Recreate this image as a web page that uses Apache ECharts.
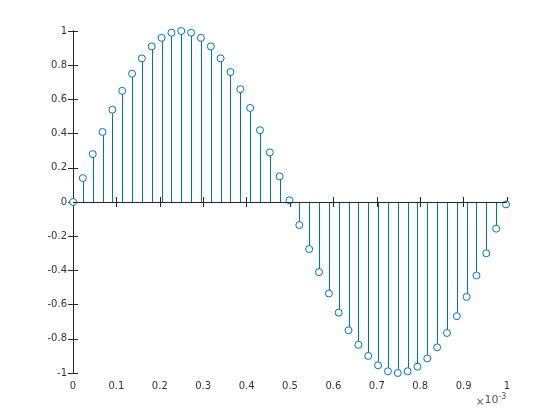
<!DOCTYPE html>
<html><head><meta charset="utf-8">
<script src="https://cdn.jsdelivr.net/npm/echarts@6/dist/echarts.min.js"></script>
<style>html,body{margin:0;padding:0;background:#fff}#c{width:560px;height:420px}</style>
</head><body><div id="c"></div>
<script>
// time in units of 1e-3 s
const times = [0, 0.0227, 0.0454, 0.068, 0.0907, 0.1134, 0.1361, 0.1587, 0.1814, 0.2041, 0.2268, 0.2494, 0.2721, 0.2948, 0.3175, 0.3401, 0.3628, 0.3855, 0.4082, 0.4308, 0.4535, 0.4762, 0.4989, 0.5215, 0.5442, 0.5669, 0.5896, 0.6122, 0.6349, 0.6576, 0.6803, 0.7029, 0.7256, 0.7483, 0.771, 0.7937, 0.8163, 0.839, 0.8617, 0.8844, 0.907, 0.9297, 0.9524, 0.9751, 0.9977];
const values = [0, 0.14, 0.28, 0.41, 0.54, 0.65, 0.75, 0.84, 0.91, 0.96, 0.99, 1.0, 0.99, 0.96, 0.91, 0.84, 0.76, 0.66, 0.55, 0.42, 0.29, 0.15, 0.01, -0.135, -0.275, -0.41, -0.535, -0.647, -0.75, -0.835, -0.90, -0.955, -0.99, -1.0, -0.99, -0.963, -0.915, -0.85, -0.766, -0.668, -0.555, -0.43, -0.30, -0.156, -0.014];
const xTicks = [0, 0.1, 0.2, 0.3, 0.4, 0.5, 0.6, 0.7, 0.8, 0.9, 1];
const yTicks = [-1, -0.8, -0.6, -0.4, -0.2, 0, 0.2, 0.4, 0.6, 0.8, 1];
const exponentLabel = '-3';

const pts = times.map((t, i) => [t, values[i]]);
const axisColor = '#262626';
const font = 'DejaVu Sans';
const chart = echarts.init(document.getElementById('c'));
const fmt = v => String(Math.round(v * 10) / 10);
const baseAxis = {
  type: 'value', min: 0, max: 1, interval: 0.1,
  axisLine: { show: true, lineStyle: { color: axisColor, width: 1 } },
  axisTick: { show: true, inside: true, length: 5, lineStyle: { color: axisColor } },
  splitLine: { show: false }
};
chart.setOption({
  animation: false,
  grid: { left: 73, right: 53, top: 31, bottom: 47 },
  xAxis: [
    Object.assign({}, baseAxis, { position: 'bottom',
      axisLabel: { color: '#333', fontFamily: font, fontSize: 10, margin: 8, formatter: fmt } }),
    Object.assign({}, baseAxis, { position: 'top', axisLabel: { show: false } })
  ],
  yAxis: [
    Object.assign({}, baseAxis, { min: -1, max: 1, interval: 0.2, position: 'left',
      axisLabel: { color: '#333', fontFamily: font, fontSize: 10, margin: 6, formatter: fmt } }),
    Object.assign({}, baseAxis, { min: -1, max: 1, interval: 0.2, position: 'right', axisLabel: { show: false } })
  ],
  series: [
    {
      type: 'custom', xAxisIndex: 0, yAxisIndex: 0, clip: false,
      data: pts,
      renderItem: function (params, api) {
        const p0 = api.coord([api.value(0), 0]);
        const p1 = api.coord([api.value(0), api.value(1)]);
        const x = Math.round(p0[0]) + 0.5;
        return { type: 'line', shape: { x1: x, y1: p0[1], x2: x, y2: p1[1] },
          style: { stroke: '#0072BD', lineWidth: 1 } };
      },
      markLine: {
        silent: true, symbol: 'none', label: { show: false },
        lineStyle: { color: axisColor, width: 1, type: 'solid' },
        data: [{ yAxis: 0 }]
      }
    },
    {
      type: 'scatter', xAxisIndex: 0, yAxisIndex: 0, data: pts,
      symbol: 'circle', symbolSize: 7,
      itemStyle: { color: '#ffffff', borderColor: '#0072BD', borderWidth: 1, opacity: 1 }
    }
  ],
  graphic: [{
    type: 'text', left: 476, top: 393,
    style: {
      text: '{a|×}{b|10}{c|' + exponentLabel + '}',
      rich: {
        a: { fontFamily: font, fontSize: 10, fill: '#555', verticalAlign: 'bottom' },
        b: { fontFamily: font, fontSize: 11, fill: '#555' },
        c: { fontFamily: font, fontSize: 8, fill: '#555', verticalAlign: 'top', padding: [0, 0, 6, 0] }
      }
    }
  }]
});
</script></body></html>
